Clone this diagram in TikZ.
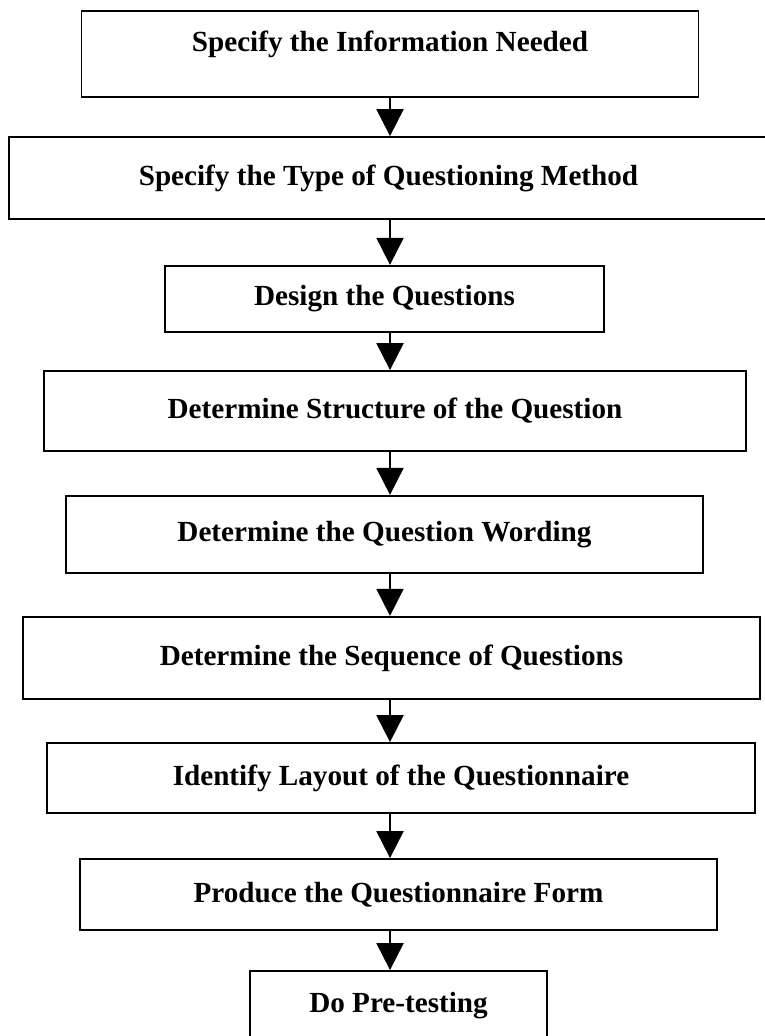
\documentclass[tikz,border=0pt]{standalone}
\usepackage{fontspec}
\setmainfont{Liberation Serif}
\usepackage{tikz}
\usetikzlibrary{arrows.meta}

\begin{document}
\begin{tikzpicture}[
  box/.style={draw, line width=1pt, inner sep=0pt, font=\fontsize{16.6}{20}\selectfont\bfseries},
  arr/.style={line width=1.1pt, -{Triangle[width=0.54cm, length=0.54cm]}}]
\useasboundingbox (0,0) rectangle (15.3,-20.72) ;
\coordinate (spine) at (7.8,0) ;
\node[box, minimum width=12.34cm, minimum height=1.72cm, text depth=0.5cm] (b1) at (7.80,-1.08) {Specify the Information Needed} ;
\node[box, minimum width=15.18cm, minimum height=1.64cm] (b2) at (7.77,-3.56) {Specify the Type of Questioning Method} ;
\node[box, minimum width=8.79cm, minimum height=1.33cm] (b3) at (7.69,-5.98) {Design the Questions} ;
\node[box, minimum width=14.03cm, minimum height=1.60cm] (b4) at (7.90,-8.22) {Determine Structure of the Question} ;
\node[box, minimum width=12.75cm, minimum height=1.55cm] (b5) at (7.69,-10.69) {Determine the Question Wording} ;
\node[box, minimum width=14.73cm, minimum height=1.65cm] (b6) at (7.83,-13.16) {Determine the Sequence of Questions} ;
\node[box, minimum width=14.15cm, minimum height=1.40cm] (b7) at (8.02,-15.56) {Identify Layout of the Questionnaire} ;
\node[box, minimum width=12.75cm, minimum height=1.42cm] (b8) at (7.97,-17.89) {Produce the Questionnaire Form} ;
\node[box, minimum width=5.95cm, minimum height=1.40cm] (b9) at (7.97,-20.12) {Do Pre-testing} ;
\foreach \a/\b in {b1/b2,b2/b3,b3/b4,b4/b5,b5/b6,b6/b7,b7/b8,b8/b9}
  \draw[arr] (\a.south -| spine) -- (\b.north -| spine) ;
\end{tikzpicture}
\end{document}
